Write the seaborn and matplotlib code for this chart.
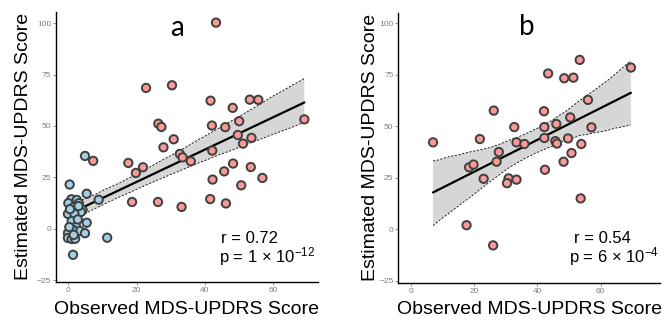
import numpy as np
import pandas as pd
import matplotlib
matplotlib.use("Agg")
import matplotlib.pyplot as plt
import seaborn as sns

# ---------------- data ----------------
# Panel a, group 1 (blue)
a_blue_obs = [4.9, 0.4, 5.4, 8.9, 0.9, 2.5, 0.0, 3.1, 1.5, 4.2, 3.7, -0.1, 1.8, 5.4, 1.0,
              2.3, 3.4, 1.2, -0.1, 4.9, -0.1, 1.0, 2.0, 11.4, 1.4, 0.5, 2.8, 0.3, 1.6, 3.0]
a_blue_est = [35.4, 21.5, 17.0, 14.1, 14.3, 14.0, 12.4, 12.4, 10.4, 9.1, 8.1, 7.2, 7.2, 2.9, 3.7,
              1.0, -1.1, -0.3, -2.2, -2.2, -4.5, -5.0, -4.9, -4.4, -12.7, 9.5, 4.5, 0.8, -3.0, 11.0]
# Panel a, group 2 (red)
a_red_obs = [43.3, 22.8, 30.4, 41.7, 53.2, 55.7, 48.2, 26.4, 27.3, 42.1, 46.0, 50.1, 69.2,
             49.7, 30.9, 53.7, 51.2, 27.9, 42.2, 32.7, 33.5, 35.9, 7.3, 17.6, 21.9, 19.8,
             48.3, 53.5, 45.7, 42.3, 56.9, 50.7, 18.7, 26.3, 41.6, 46.2, 33.2]
a_red_est = [100.3, 68.5, 69.8, 62.3, 62.8, 62.7, 58.8, 51.1, 49.5, 50.2, 49.4, 52.3, 53.2,
             45.6, 43.5, 44.2, 41.4, 39.6, 38.0, 36.4, 34.7, 32.8, 33.0, 32.0, 29.9, 27.1,
             31.7, 30.0, 27.9, 23.9, 24.7, 21.1, 13.0, 13.0, 14.4, 12.3, 10.6]
# Panel b
b_obs = [69.6, 53.4, 43.4, 48.5, 51.4, 56.0, 26.2, 42.1, 50.4, 57.1, 32.7, 42.2, 46.0,
         7.0, 21.8, 49.7, 42.2, 33.4, 35.9, 45.7, 46.2, 53.9, 27.8, 50.8, 27.1, 48.3,
         18.4, 19.8, 42.4, 23.0, 30.9, 33.4, 30.4, 53.7, 17.6, 26.0]
b_est = [78.4, 82.1, 75.5, 73.2, 73.5, 62.7, 57.5, 57.2, 54.2, 49.4, 49.5, 49.5, 51.0,
         42.1, 43.7, 44.0, 44.2, 42.1, 41.3, 42.7, 41.5, 41.3, 37.4, 36.9, 32.7, 32.7,
         30.0, 31.3, 28.8, 24.4, 24.6, 24.0, 22.3, 14.9, 1.9, -7.9]

x_ticks = [0, 20, 40, 60]
y_ticks = [-25, 0, 25, 50, 75, 100]
panel_labels = ["a", "b"]
stat_r = ["r = 0.72", "r = 0.54"]
stat_p = [r"p = 1 × 10$^{-12}$", r"p = 6 × 10$^{-4}$"]
x_label = "Observed MDS-UPDRS Score"
y_label = "Estimated MDS-UPDRS Score"

df_a = pd.DataFrame({
    "obs": a_blue_obs + a_red_obs,
    "est": a_blue_est + a_red_est,
    "grp": ["g1"] * len(a_blue_obs) + ["g2"] * len(a_red_obs),
})
df_b = pd.DataFrame({"obs": b_obs, "est": b_est, "grp": ["g2"] * len(b_obs)})

# ---------------- style ----------------
sns.set_theme(style="white")
plt.rcParams["font.family"] = ["Liberation Sans", "DejaVu Sans"]
plt.rcParams["mathtext.fontset"] = "custom"
plt.rcParams["mathtext.rm"] = "Liberation Sans"
plt.rcParams["mathtext.it"] = "Liberation Sans:italic"
plt.rcParams["mathtext.bf"] = "Liberation Sans:bold"

RED = "#F99A98"
BLUE = "#A3CFE4"
EDGE = "#404040"
BAND = "#D6D6D6"
palette = {"g1": BLUE, "g2": RED}

fig = plt.figure(figsize=(6.7, 3.23), dpi=100)
axa = fig.add_axes([56 / 670, (323 - 281.7) / 323, 262 / 670, 270 / 323])
axb = fig.add_axes([398.3 / 670, (323 - 282.7) / 323, 261.7 / 670, 270 / 323])

specs = [
    dict(ax=axa, df=df_a, xlim=(-3.6, 73.2), ylim=(-25.8, 105.6),
         lab=(0.462, 0.94), r=(0.63, 0.143), p=(0.622, 0.073), ylc=-0.0935, xlc=-0.073),
    dict(ax=axb, df=df_b, xlim=(-4.0, 78.8), ylim=(-26.0, 105.0),
         lab=(0.492, 0.947), r=(0.672, 0.147), p=(0.653, 0.077), ylc=-0.072, xlc=-0.069),
]

for i, s in enumerate(specs):
    ax = s["ax"]
    df = s["df"]
    sns.regplot(data=df, x="obs", y="est", ax=ax, scatter=False, ci=95, seed=3,
                color="black", line_kws=dict(lw=1.6, zorder=3))
    band = ax.collections[-1]
    band.set_facecolor(BAND)
    band.set_alpha(1)
    band.set_edgecolor("none")
    band.set_zorder(1)
    v = band.get_paths()[0].vertices
    xs = np.round(v[:, 0], 8)
    ux = np.unique(xs)
    lo = np.array([v[xs == u, 1].min() for u in ux])
    hi = np.array([v[xs == u, 1].max() for u in ux])
    for edge in (lo, hi):
        ax.plot(ux, edge, color="black", lw=0.6, ls=(0, (2.5, 2)), zorder=2)

    sns.scatterplot(data=df, x="obs", y="est", hue="grp", palette=palette, ax=ax,
                    s=36, edgecolor=EDGE, linewidth=1.4, legend=False, zorder=4)

    ax.set_xlim(*s["xlim"])
    ax.set_ylim(*s["ylim"])
    ax.set_xticks(x_ticks)
    ax.set_yticks(y_ticks)
    ax.tick_params(axis="both", labelsize=6, labelcolor="#808080", color="#808080",
                   length=2, width=0.6, pad=1.5, bottom=True, left=True)
    sns.despine(ax=ax)
    for sp in ("left", "bottom"):
        ax.spines[sp].set_color("black")
        ax.spines[sp].set_linewidth(1.0)

    ax.set_xlabel(x_label, fontsize=14, color="black")
    ax.set_ylabel(y_label, fontsize=14, color="black")
    ax.xaxis.set_label_coords(0.5, s["xlc"])
    ax.yaxis.set_label_coords(s["ylc"], 0.5)

    ax.text(*s["lab"], panel_labels[i], transform=ax.transAxes, ha="center", va="center",
            fontsize=20, family=["Lato", "DejaVu Sans"], color="black")
    ax.text(*s["r"], stat_r[i], transform=ax.transAxes, ha="left", va="baseline",
            fontsize=12, color="black")
    ax.text(*s["p"], stat_p[i], transform=ax.transAxes, ha="left", va="baseline",
            fontsize=12, color="black")

fig.savefig("out.png", dpi=100)
